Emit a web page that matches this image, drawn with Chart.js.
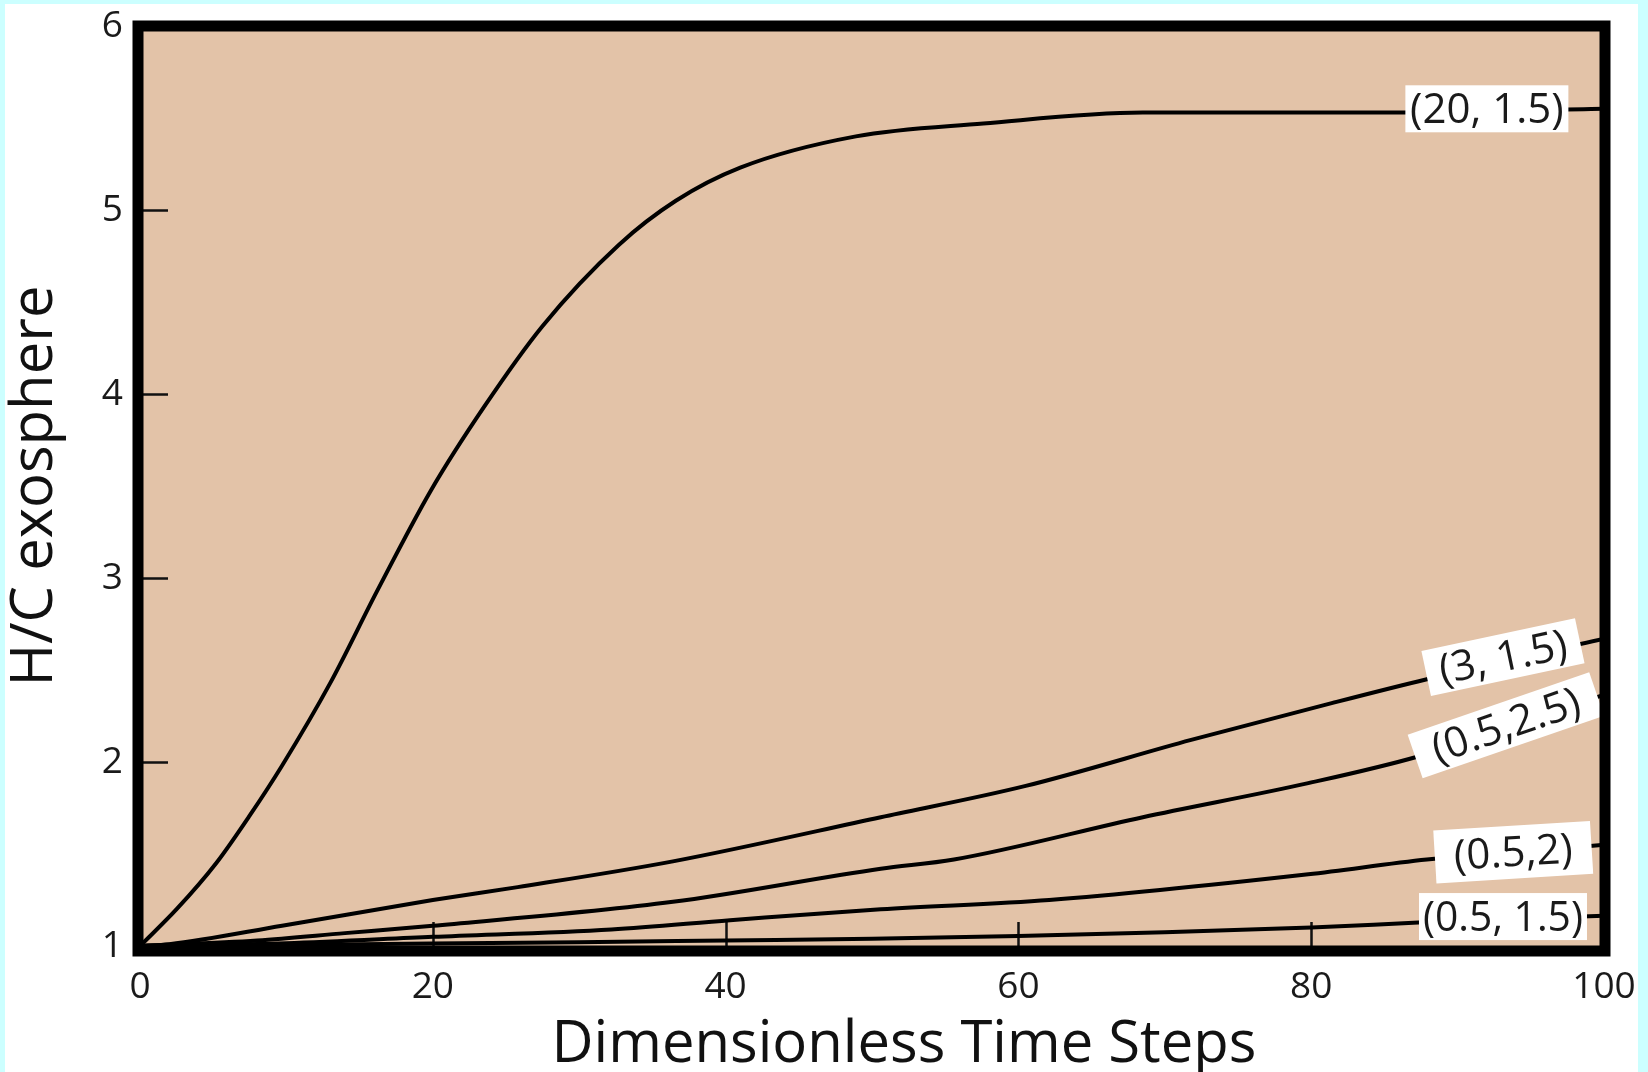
<!DOCTYPE html>
<html>
<head>
<meta charset="utf-8">
<title>H/C exosphere</title>
<script src="https://cdn.jsdelivr.net/npm/chart.js@4.4.1/dist/chart.umd.min.js"></script>
<style>
  html, body { margin: 0; padding: 0; background: #fff; overflow: hidden; }
  #wrap { width: 1648px; height: 1072px; position: relative; }
</style>
</head>
<body>
<div id="wrap"><canvas id="chart"></canvas></div>
<script>
// -------------------------------
// DATA
// -------------------------------
const xTicks = [0, 20, 40, 60, 80, 100];
const yTicks = [1, 2, 3, 4, 5, 6];

const xTitle = "Dimensionless Time Steps";
const yTitle = "H/C exosphere";

// curve labels, top to bottom
const curveNames = ["(20, 1.5)", "(3, 1.5)", "(0.5,2.5)", "(0.5,2)", "(0.5, 1.5)"];

// (20, 1.5)
const t_a = [0, 2.5, 5.2, 7.5, 9.7, 13, 16.2, 19.9, 23.5, 27.5, 32.7, 36.6, 41, 48.9, 57.6, 68.5, 75, 86, 100];
const hc_a = [1, 1.2, 1.45, 1.71, 1.98, 2.43, 2.93, 3.48, 3.93, 4.37, 4.81, 5.05, 5.23, 5.40, 5.47, 5.53, 5.53, 5.53, 5.55];

// (3, 1.5)
const t_b = [0, 2, 9.7, 20, 25.8, 36.4, 50.6, 60.5, 71.8, 81.4, 87.9, 100];
const hc_b = [1, 1.01, 1.11, 1.25, 1.32, 1.46, 1.70, 1.87, 2.12, 2.32, 2.45, 2.67];

// (0.5, 2.5)
const t_c = [0, 8, 14, 20, 36.4, 50.6, 55.6, 68.5, 79.8, 87.3, 100];
const hc_c = [1, 1.03, 1.07, 1.11, 1.24, 1.42, 1.47, 1.70, 1.885, 2.03, 2.365];

// (0.5, 2)
const t_d = [0, 10, 20, 32.2, 40.3, 50.6, 62.1, 79.8, 87.9, 100];
const hc_d = [1, 1.015, 1.05, 1.09, 1.14, 1.20, 1.25, 1.39, 1.47, 1.55];

// (0.5, 1.5)
const t_e = [0, 15, 30, 40, 50, 60, 70, 80, 88, 100];
const hc_e = [1, 1.01, 1.02, 1.03, 1.04, 1.055, 1.075, 1.10, 1.13, 1.165];

// where each label box sits (data coords)
const labelT = [92.0, 93.1, 93.3, 93.8, 93.1];
const labelHC = [5.55, 2.57, 2.20, 1.51, 1.16];

const FONT = "'Open Sans', 'Noto Sans', sans-serif";
const PLOT_BG = "#e3c3a8";

const pts = (ts, vs) => ts.map((t, i) => ({ x: t, y: vs[i] }));

// -------------------------------
// PLUGINS
// -------------------------------
const backdrop = {
  id: "backdrop",
  beforeDraw(chart) {
    const { ctx, width, height, chartArea: a } = chart;
    ctx.save();
    ctx.fillStyle = "#ffffff";
    ctx.fillRect(0, 0, width, height);
    // thin cyan page edges
    ctx.fillStyle = "#ccffff";
    ctx.fillRect(0, 0, 5, height);
    ctx.fillRect(0, 0, width, 4);
    ctx.fillRect(width - 10, 0, 10, height);
    // plot fill
    ctx.fillStyle = PLOT_BG;
    ctx.fillRect(a.left - 4, a.top, a.right - a.left + 6, a.bottom - a.top + 4);
    ctx.restore();
  }
};

const innerTicks = {
  id: "innerTicks",
  beforeDatasetsDraw(chart) {
    const { ctx, chartArea: a, scales: { x, y } } = chart;
    ctx.save();
    ctx.strokeStyle = "#111";
    ctx.lineWidth = 2.5;
    ctx.beginPath();
    xTicks.slice(1, -1).forEach(v => {
      const px = Math.round(x.getPixelForValue(v)) + 0.5;
      ctx.moveTo(px, a.bottom);
      ctx.lineTo(px, a.bottom - 24);
    });
    yTicks.slice(1, -1).forEach(v => {
      const py = Math.round(y.getPixelForValue(v)) + 0.5;
      ctx.moveTo(a.left, py);
      ctx.lineTo(a.left + 28, py);
    });
    ctx.stroke();
    ctx.restore();
  }
};

const curveLabels = {
  id: "curveLabels",
  afterDatasetsDraw(chart) {
    const { ctx, scales: { x, y } } = chart;
    const boxes = [
      { w: 163, h: 47, rot: 0 },
      { w: 157, h: 46, rot: -12 },
      { w: 192, h: 46, rot: -19 },
      { w: 157, h: 53, rot: -3.5 },
      { w: 168, h: 47, rot: 0 }
    ];
    curveNames.forEach((name, i) => {
      const b = boxes[i];
      const px = x.getPixelForValue(labelT[i]);
      const py = y.getPixelForValue(labelHC[i]);
      ctx.save();
      ctx.translate(px, py);
      ctx.rotate(b.rot * Math.PI / 180);
      ctx.fillStyle = "#ffffff";
      ctx.fillRect(-b.w / 2, -b.h / 2, b.w, b.h);
      ctx.font = "42px " + FONT;
      ctx.fillStyle = "#1a1a1a";
      ctx.textAlign = "center";
      ctx.textBaseline = "middle";
      const tw = ctx.measureText(name).width;
      const room = b.w - 8;
      if (tw > room) ctx.scale(room / tw, 1);
      ctx.fillText(name, 0, 2);
      ctx.restore();
    });
  }
};

// x title sits a little right of the plot centre in the original
const bottomTitle = {
  id: "bottomTitle",
  afterDraw(chart) {
    const { ctx, chartArea: a } = chart;
    ctx.save();
    ctx.font = "58px " + FONT;
    ctx.fillStyle = "#111";
    ctx.textAlign = "center";
    ctx.textBaseline = "alphabetic";
    ctx.fillText(xTitle, (a.left + a.right) / 2 + 32, 1062);
    ctx.restore();
  }
};

const frame = {
  id: "frame",
  afterDraw(chart) {
    const { ctx, chartArea: a } = chart;
    ctx.save();
    ctx.strokeStyle = "#000";
    ctx.lineWidth = 11;
    ctx.strokeRect(a.left - 2, a.top, a.right - a.left + 3, a.bottom - a.top + 5);
    ctx.restore();
  }
};

// -------------------------------
// CHART
// -------------------------------
const line = (label, data) => ({
  label,
  data,
  borderColor: "#000",
  borderWidth: 4,
  pointRadius: 0,
  fill: false,
  cubicInterpolationMode: "monotone"
});

new Chart(document.getElementById("chart").getContext("2d"), {
  type: "line",
  data: {
    datasets: [
      line(curveNames[0], pts(t_a, hc_a)),
      line(curveNames[1], pts(t_b, hc_b)),
      line(curveNames[2], pts(t_c, hc_c)),
      line(curveNames[3], pts(t_d, hc_d)),
      line(curveNames[4], pts(t_e, hc_e))
    ]
  },
  options: {
    responsive: true,
    maintainAspectRatio: false,
    animation: false,
    devicePixelRatio: 1,
    layout: {
      autoPadding: false,
      padding: { left: 0, right: 44, top: 26, bottom: 0 }
    },
    plugins: {
      legend: { display: false },
      tooltip: { enabled: false }
    },
    scales: {
      x: {
        type: "linear",
        min: 0,
        max: 100,
        afterBuildTicks: s => { s.ticks = xTicks.map(v => ({ value: v })); },
        afterFit: s => {
          s.height = 126;
          s.paddingLeft = 0;
          s.paddingRight = 0;
        },
        grid: { display: false, drawTicks: false },
        border: { display: false },
        ticks: {
          padding: 19,
          color: "#1a1a1a",
          font: { family: FONT, size: 37 },
          maxRotation: 0
        },
        title: { display: false }
      },
      y: {
        type: "linear",
        min: 1,
        max: 6,
        afterBuildTicks: s => { s.ticks = yTicks.map(v => ({ value: v })); },
        afterFit: s => {
          s.width = 140;
          s.paddingTop = 0;
          s.paddingBottom = 0;
        },
        grid: { display: false, drawTicks: false },
        border: { display: false },
        ticks: {
          padding: 17,
          color: "#1a1a1a",
          font: { family: FONT, size: 37 }
        },
        title: {
          display: true,
          text: yTitle,
          color: "#111",
          font: { family: FONT, size: 58 },
          padding: { top: 1, bottom: 0 }
        }
      }
    }
  },
  plugins: [backdrop, innerTicks, curveLabels, frame, bottomTitle]
});
</script>
</body>
</html>
